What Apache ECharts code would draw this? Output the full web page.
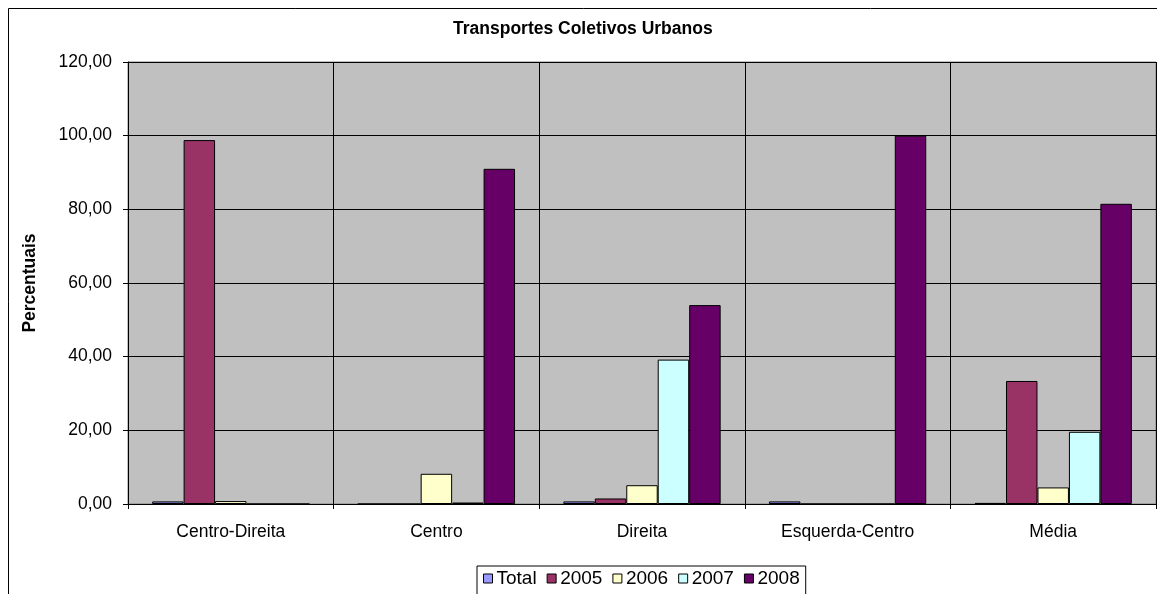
<!DOCTYPE html>
<html>
<head>
<meta charset="utf-8">
<script src="https://cdn.jsdelivr.net/npm/echarts@6/dist/echarts.min.js"></script>
<style>
  html, body { margin: 0; padding: 0; background: #fff; }
  #chart { width: 1157px; height: 594px; }
</style>
</head>
<body>
<div id="chart"></div>
<script>
// Categories and yearly percentages
const categories = ['Centro-Direita', 'Centro', 'Direita', 'Esquerda-Centro', 'Média'];
const seriesNames = ['Total', '2005', '2006', '2007', '2008'];
const totalValues = [0.7, 0, 0.7, 0.7, 0.3];
const values2005 = [98.8, 0, 1.5, 0, 33.4];
const values2006 = [0.8, 8.2, 5.1, 0, 4.5];
const values2007 = [0, 0.4, 39.2, 0, 19.6];
const values2008 = [0, 91.0, 54.0, 100.0, 81.5];
const seriesColors = ['#9999FF', '#993366', '#FFFFCC', '#CCFFFF', '#660066'];

const allValues = [totalValues, values2005, values2006, values2007, values2008];
const FONT = '"Liberation Sans", Arial, sans-serif';
const FS = 17.5;

const chart = echarts.init(document.getElementById('chart'), null, { renderer: 'canvas' });

chart.setOption({
  animation: false,
  backgroundColor: '#ffffff',
  textStyle: { fontFamily: FONT },
  title: {
    text: 'Transportes Coletivos Urbanos',
    left: 448,
    top: 15,
    textStyle: { fontFamily: FONT, fontSize: FS, fontWeight: 'bold', color: '#000' }
  },
  graphic: [{
    type: 'rect',
    shape: { x: 8.5, y: 8.5, width: 1300, height: 800 },
    style: { fill: null, stroke: '#000', lineWidth: 1 },
    silent: true,
    z: -10
  }],
  legend: {
    data: seriesNames,
    left: 477,
    top: 566,
    orient: 'horizontal',
    itemWidth: 9,
    itemHeight: 9,
    itemGap: 10,
    padding: [3, 6, 10, 6],
    borderColor: '#000',
    borderWidth: 1,
    icon: 'rect',
    itemStyle: { borderColor: '#000', borderWidth: 1 },
    textStyle: { fontFamily: FONT, fontSize: 19, color: '#000', padding: [0, 0, 0, -1] }
  },
  grid: {
    left: 128,
    top: 62,
    right: 1,
    bottom: 90,
    show: true,
    backgroundColor: '#C0C0C0',
    borderColor: '#808080',
    borderWidth: 1
  },
  xAxis: {
    type: 'category',
    data: categories,
    boundaryGap: true,
    axisLine: { lineStyle: { color: '#000', width: 1 } },
    axisTick: { show: true, alignWithLabel: false, length: 5, lineStyle: { color: '#000' } },
    axisLabel: { fontFamily: FONT, fontSize: FS, color: '#000', margin: 19 },
    splitLine: { show: true, lineStyle: { color: '#000', width: 1 } }
  },
  yAxis: {
    type: 'value',
    min: 0,
    max: 120,
    interval: 20,
    name: 'Percentuais',
    nameLocation: 'middle',
    nameGap: 89,
    nameTextStyle: { fontFamily: FONT, fontSize: FS, fontWeight: 'bold', color: '#000' },
    axisLine: { show: true, lineStyle: { color: '#000', width: 1 } },
    axisTick: { show: true, length: 5, lineStyle: { color: '#000' } },
    axisLabel: {
      fontFamily: FONT, fontSize: FS, color: '#000', margin: 16,
      formatter: v => v.toFixed(2).replace('.', ',')
    },
    splitLine: { show: true, lineStyle: { color: '#000', width: 1 } }
  },
  series: seriesNames.map((name, i) => ({
    name: name,
    type: 'bar',
    data: allValues[i],
    barGap: '0%',
    barCategoryGap: '23.5%',
    itemStyle: { color: seriesColors[i], borderColor: '#000', borderWidth: 1 }
  }))
});
</script>
</body>
</html>
